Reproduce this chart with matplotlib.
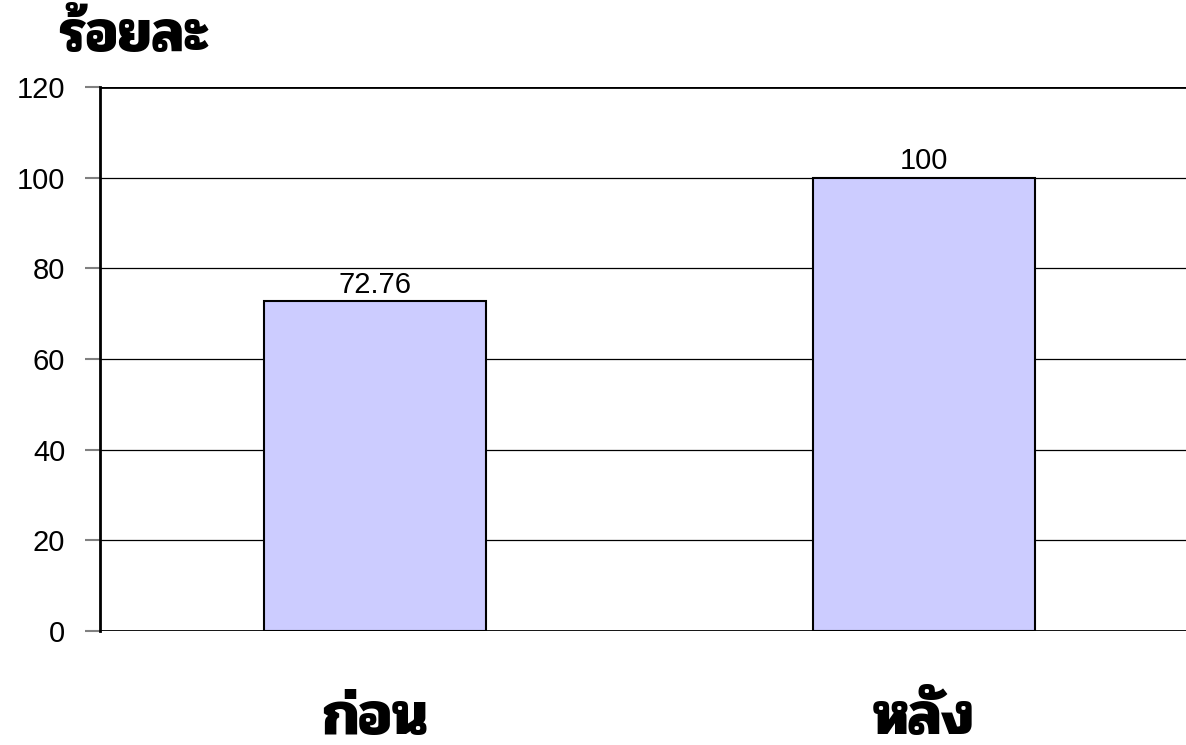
import matplotlib
matplotlib.use("Agg")
import matplotlib.pyplot as plt

categories = ["ก่อน", "หลัง"]
values = [72.76, 100]
value_labels = ["72.76", "100"]
y_ticks = [0, 20, 40, 60, 80, 100, 120]

plt.rcParams['font.family'] = ['Liberation Sans', 'DejaVu Sans']

fig = plt.figure(figsize=(11.86, 7.45), dpi=100)
ax = fig.add_axes([100 / 1186, (745 - 631) / 745, 1086 / 1186, (631 - 87) / 745])

x = list(range(len(categories)))
ax.bar(x, values, width=0.404, color="#ccccff", edgecolor="black", linewidth=1.5, zorder=3)

for xi, v, lab in zip(x, values, value_labels):
    ax.text(xi, v + 0.5, lab, ha="center", va="bottom", fontsize=21, color="black")

ax.set_xlim(-0.5, 1.477)
ax.set_ylim(0, 120)
ax.set_yticks(y_ticks)
ax.set_yticklabels([str(t) for t in y_ticks])
ax.yaxis.grid(True, color="black", linewidth=0.9, zorder=0)
ax.set_xticks([])
ax.tick_params(axis="y", length=11, width=1.5, color="#808080", pad=14, labelsize=21)

for s in ["right", "bottom", "top"]:
    ax.spines[s].set_visible(False)
ax.spines["left"].set_linewidth(2)
ax.axhline(0, color="black", linewidth=2, zorder=4)
ax.axhline(120, color="black", linewidth=2, zorder=4)

# thai text needs a thai font
thai = ['Pridi', 'Loma', 'DejaVu Sans']
for xi, c in zip(x, categories):
    ax.text(xi, -19.5, c, ha="center", va="center", fontsize=44, fontweight="bold",
            family=thai, clip_on=False)

fig.text(58 / 1186, 1 - 38 / 745, "ร้อยละ", ha="left", va="center", fontsize=42,
         fontweight="bold", family=thai)

fig.savefig("out.png", dpi=100)
